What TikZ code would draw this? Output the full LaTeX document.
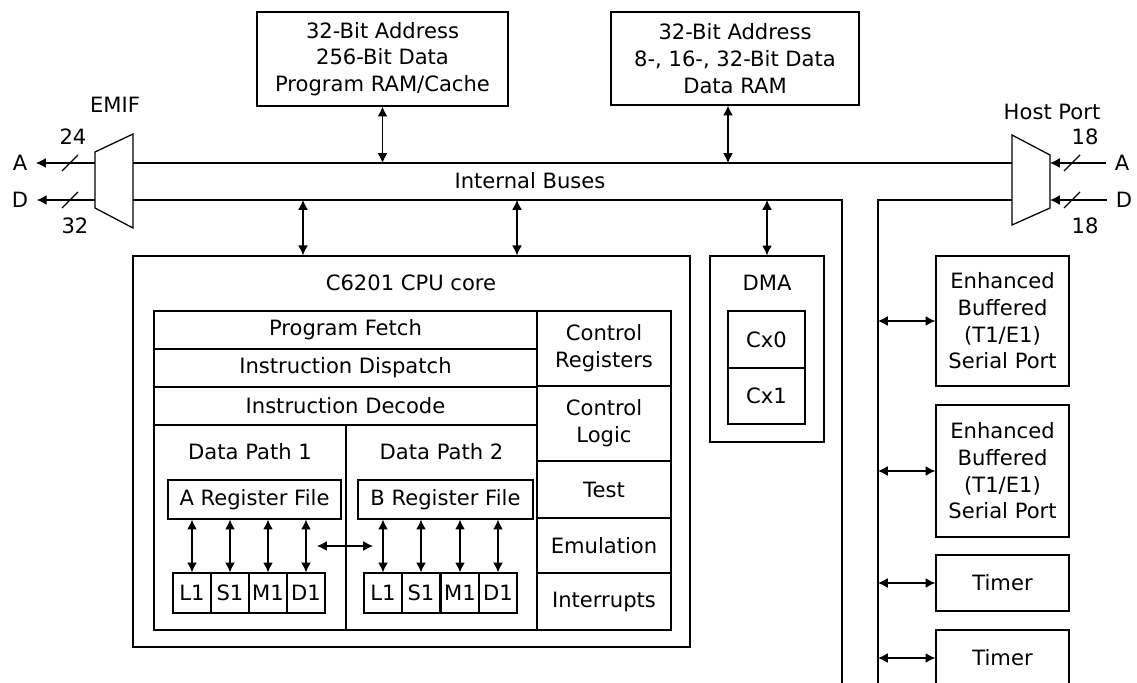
\documentclass[tikz,border=0pt]{standalone}
\usepackage{fontspec}
\setmainfont{DejaVu Sans}
\usetikzlibrary{arrows.meta}

\begin{document}
\begin{tikzpicture}[
    x=0.025cm, y=-0.025cm,
    every node/.style={font=\fontsize{15}{19}\selectfont},
    box/.style={rectangle,draw,line width=0.9pt,align=center,inner sep=0pt},
    unit/.style={box,minimum width=0.95cm,minimum height=1cm},
    periph/.style={box,minimum width=3.325cm},
    lbl/.style={inner sep=1pt},
    bus/.style={line width=0.9pt},
    arr/.style={-{Latex[length=7pt,width=7pt]},line width=0.8pt},
    biarr/.style={{Latex[length=7pt,width=7pt]}-{Latex[length=7pt,width=7pt]},line width=0.8pt}
  ]
    \clip (0,0) rectangle (1137,683);

    \node[box,minimum width=6.275cm,minimum height=2.35cm] (pram) at (382.5,59) {32-Bit Address\\256-Bit Data\\Program RAM/Cache};
    \node[box,minimum width=6.2cm,minimum height=2.325cm] (dram) at (735,58.5) {32-Bit Address\\8-, 16-, 32-Bit Data\\Data RAM};

    \coordinate (emifA) at (95,163);
    \coordinate (emifD) at (95,200);
    \coordinate (busAL) at (133,163);
    \coordinate (busAR) at (1012,163);
    \coordinate (busDL) at (133,200);
    \coordinate (busDR) at (842,200);
    \coordinate (pbusL) at (842,690);
    \coordinate (pbusT) at (878,200);
    \coordinate (pbusB) at (878,690);
    \coordinate (hostD) at (1012,200);
    \coordinate (hostAin) at (1050,163);
    \coordinate (hostDin) at (1050,200);
    \coordinate (dport) at (728,163);
    \coordinate (cport1) at (303,200);
    \coordinate (cport2) at (517,200);

    \draw[bus] (busAL) -- (busAR);
    \draw[bus] (busDL) -- (busDR) -- (pbusL);
    \draw[bus] (pbusB) -- (pbusT) -- (hostD);
    \node[lbl] (buslbl) at (530,181) {Internal Buses};

    \draw[bus] (95,152) -- (133,134) -- (133,228) -- (95,208) -- cycle;
    \draw[bus] (1012,135) -- (1050,155) -- (1050,208) -- (1012,225) -- cycle;
    \node[lbl] (emiflbl) at (115,105) {EMIF};
    \node[lbl] (hostlbl) at (1052,112) {Host Port};

    \node[lbl] (pinA) at (20,163) {A};
    \node[lbl] (pinD) at (20,200) {D};
    \node[lbl] (wA) at (73,137) {24};
    \node[lbl] (wD) at (75,226) {32};
    \draw[arr,shorten >=5pt] (emifA) -- (pinA.east);
    \draw[arr,shorten >=5pt] (emifD) -- (pinD.east);
    \draw[bus] (62,171) -- (78,155);
    \draw[bus] (62,208) -- (78,192);

    \node[lbl] (hpinA) at (1122,163) {A};
    \node[lbl] (hpinD) at (1124,200) {D};
    \node[lbl] (hwA) at (1085,137) {18};
    \node[lbl] (hwD) at (1085,226) {18};
    \draw[arr,shorten <=5pt] (hpinA.west) -- (hostAin);
    \draw[arr,shorten <=5pt] (hpinD.west) -- (hostDin);
    \draw[bus] (1064,171) -- (1080,155);
    \draw[bus] (1064,208) -- (1080,192);

    \node[box,minimum width=13.925cm,minimum height=9.775cm] (cpu) at (411.5,451.5) {};
    \node[lbl] (cpulbl) at (411,283) {C6201 CPU core};

    \node[box,minimum width=9.575cm,minimum height=0.95cm] (fetch) at (345.5,330) {Program Fetch};
    \node[box,minimum width=9.575cm,minimum height=0.95cm] (dispatch) at (345.5,368) {Instruction Dispatch};
    \node[box,minimum width=9.575cm,minimum height=0.95cm] (decode) at (345.5,406) {Instruction Decode};
    \node[box,minimum width=3.35cm,minimum height=1.875cm] (ctrlreg) at (604,348.5) {Control\\Registers};
    \node[box,minimum width=3.35cm,minimum height=1.875cm] (ctrllogic) at (604,423.5) {Control\\Logic};
    \node[box,minimum width=3.35cm,minimum height=1.425cm] (test) at (604,489.5) {Test};
    \node[box,minimum width=3.35cm,minimum height=1.375cm] (emu) at (604,545.5) {Emulation};
    \node[box,minimum width=3.35cm,minimum height=1.425cm] (intr) at (604,601.5) {Interrupts};

    \node[box,minimum width=4.8cm,minimum height=5.125cm] (dp1) at (250,527.5) {};
    \node[box,minimum width=4.775cm,minimum height=5.125cm] (dp2) at (441.5,527.5) {};
    \node[lbl] (dp1lbl) at (250,452) {Data Path 1};
    \node[lbl] (dp2lbl) at (441.5,452) {Data Path 2};
    \node[box,minimum width=4.325cm,minimum height=0.975cm] (aregs) at (254.5,499.5) {A Register File};
    \node[box,minimum width=4.375cm,minimum height=0.975cm] (bregs) at (445.5,499.5) {B Register File};

    \node[unit] (la) at (192,593) {L1};
    \node[unit] (sa) at (230,593) {S1};
    \node[unit] (ma) at (268,593) {M1};
    \node[unit] (da) at (306,593) {D1};
    \node[unit] (lb) at (383,593) {L1};
    \node[unit] (sb) at (421,593) {S1};
    \node[unit] (mb) at (460,593) {M1};
    \node[unit] (db) at (498,593) {D1};

    \draw[biarr] (la |- aregs.south) -- (la.north);
    \draw[biarr] (sa |- aregs.south) -- (sa.north);
    \draw[biarr] (ma |- aregs.south) -- (ma.north);
    \draw[biarr] (da |- aregs.south) -- (da.north);
    \draw[biarr] (lb |- bregs.south) -- (lb.north);
    \draw[biarr] (sb |- bregs.south) -- (sb.north);
    \draw[biarr] (mb |- bregs.south) -- (mb.north);
    \draw[biarr] (db |- bregs.south) -- (db.north);

    \coordinate (xl) at (317,546);
    \coordinate (xr) at (373,546);
    \draw[biarr] (xl) -- (xr);

    \node[box,minimum width=2.85cm,minimum height=4.65cm] (dma) at (767,349) {};
    \node[lbl] (dmalbl) at (767,283) {DMA};
    \node[box,minimum width=1.925cm,minimum height=1.425cm] (cx0) at (766.5,339.5) {Cx0};
    \node[box,minimum width=1.925cm,minimum height=1.4cm] (cx1) at (766.5,396) {Cx1};

    \node[periph,minimum height=3.25cm] (mcbsp0) at (1002.5,321) {Enhanced\\Buffered\\(T1/E1)\\Serial Port};
    \node[periph,minimum height=3.3cm] (mcbsp1) at (1002.5,471) {Enhanced\\Buffered\\(T1/E1)\\Serial Port};
    \node[periph,minimum height=1.4cm] (timer0) at (1002.5,583) {Timer};
    \node[periph,minimum height=1.4cm] (timer1) at (1002.5,658) {Timer};

    \draw[biarr] (pram.south) -- (pram.south |- busAL);
    \draw[biarr] (dram.south -| dport) -- (dport);
    \draw[biarr] (cport1) -- (cport1 |- cpu.north);
    \draw[biarr] (cport2) -- (cport2 |- cpu.north);
    \draw[biarr] (dma.north |- busDL) -- (dma.north);
    \draw[biarr] (pbusT |- mcbsp0.west) -- (mcbsp0.west);
    \draw[biarr] (pbusT |- mcbsp1.west) -- (mcbsp1.west);
    \draw[biarr] (pbusT |- timer0.west) -- (timer0.west);
    \draw[biarr] (pbusT |- timer1.west) -- (timer1.west);
  \end{tikzpicture}
\end{document}
